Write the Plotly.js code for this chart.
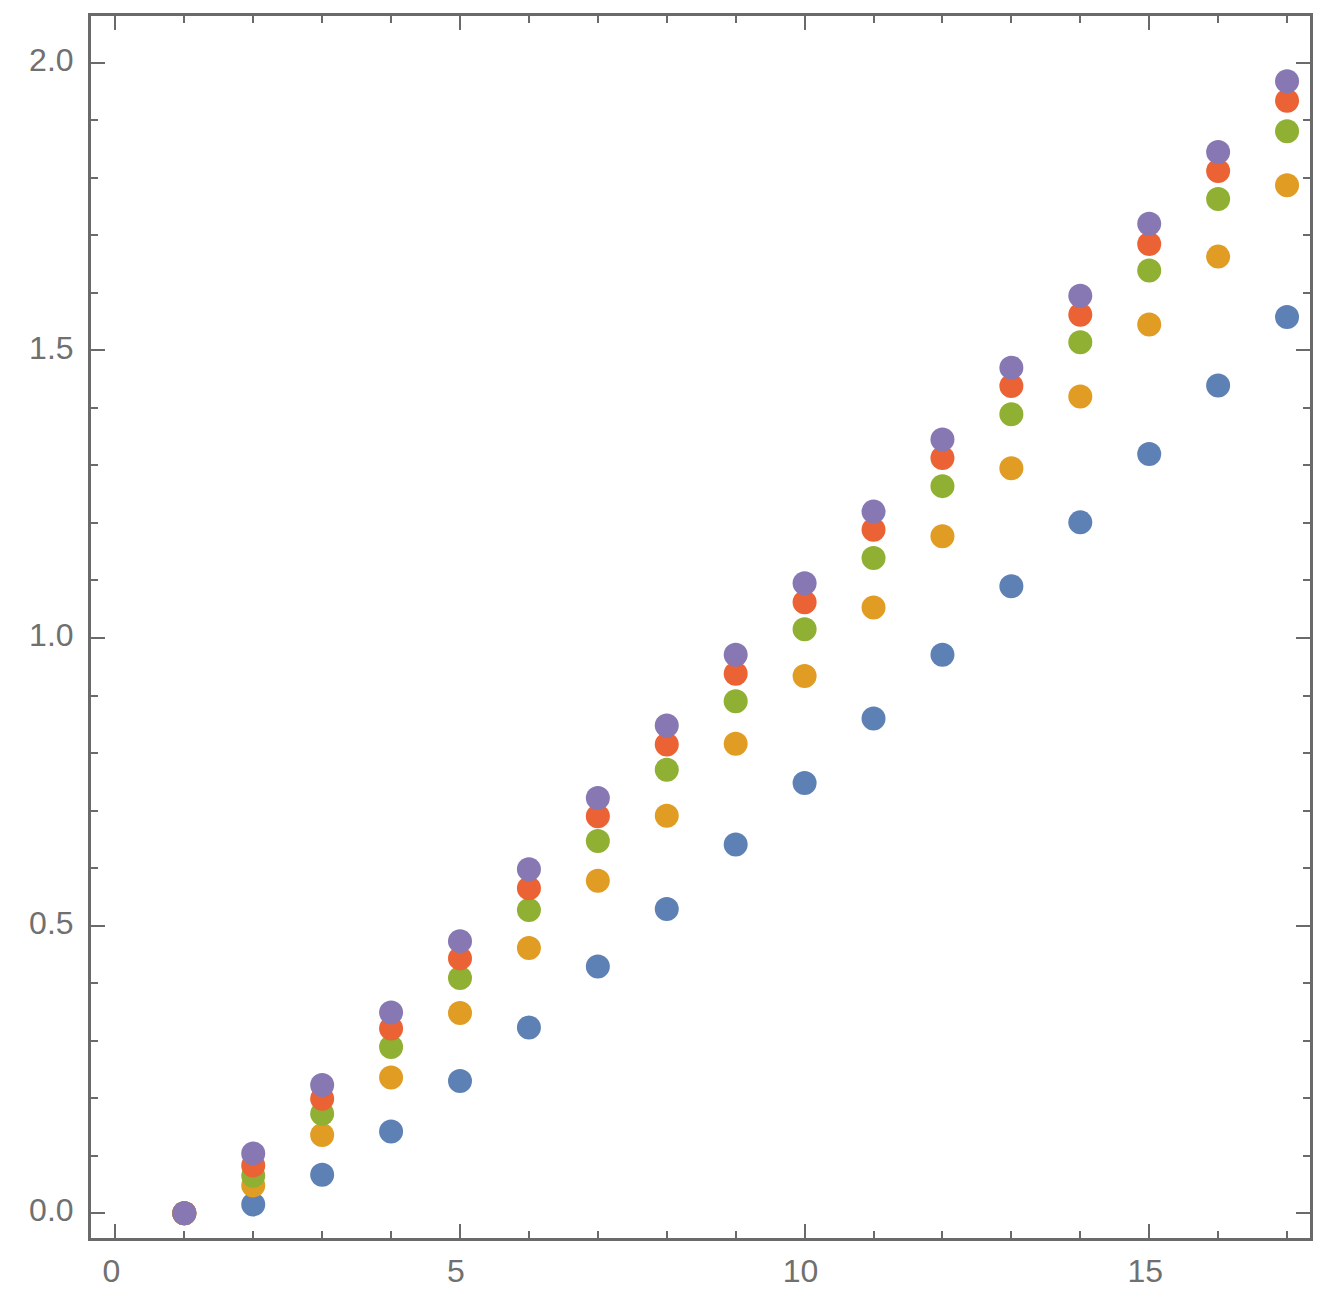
<!DOCTYPE html>
<html>
<head>
<meta charset="utf-8">
<script src="https://cdn.plot.ly/plotly-3.0.1.min.js"></script>
<style>html,body{margin:0;padding:0;background:#fff;}#plot{width:1326px;height:1300px;}</style>
</head>
<body>
<div id="plot"></div>
<script>
const xs = [1,2,3,4,5,6,7,8,9,10,11,12,13,14,15,16,17];
const blue   = [0, 0.015, 0.067, 0.142, 0.230, 0.323, 0.429, 0.529, 0.641, 0.748, 0.860, 0.971, 1.090, 1.201, 1.320, 1.439, 1.558];
const orange = [0, 0.048, 0.136, 0.236, 0.348, 0.461, 0.578, 0.691, 0.816, 0.934, 1.053, 1.177, 1.295, 1.420, 1.545, 1.663, 1.787];
const green  = [0, 0.065, 0.173, 0.289, 0.409, 0.527, 0.647, 0.771, 0.890, 1.015, 1.139, 1.264, 1.389, 1.514, 1.639, 1.763, 1.881];
const red    = [0, 0.083, 0.199, 0.321, 0.443, 0.565, 0.690, 0.815, 0.938, 1.062, 1.188, 1.313, 1.438, 1.562, 1.685, 1.812, 1.934];
const purple = [0, 0.104, 0.223, 0.349, 0.473, 0.598, 0.722, 0.848, 0.971, 1.095, 1.220, 1.345, 1.470, 1.595, 1.720, 1.845, 1.968];
const xTicks = [0, 5, 10, 15];
const yTicks = [0.0, 0.5, 1.0, 1.5, 2.0];

const series = [blue, orange, green, red, purple];
const colors = ['#5E81B5', '#E19C24', '#8FB032', '#EB6235', '#8778B3'];

const traces = series.map((ys, i) => ({
  x: xs, y: ys, type: 'scatter', mode: 'markers',
  marker: {size: 24, color: colors[i], line: {width: 0}},
  hoverinfo: 'skip', showlegend: false
}));

const frameColor = '#6a6a6a';
const tickFont = {family: 'Liberation Sans, Arial, sans-serif', size: 32, color: '#707070'};

const layout = {
  width: 1326, height: 1300,
  margin: {l: 91, r: 16, t: 16, b: 62},
  paper_bgcolor: '#ffffff', plot_bgcolor: '#ffffff',
  showlegend: false,
  xaxis: {
    range: [-0.354, 17.333], autorange: false,
    showgrid: false, zeroline: false,
    showline: true, linecolor: frameColor, linewidth: 3, mirror: 'allticks',
    tickmode: 'array', tickvals: xTicks, ticktext: xTicks.map(String),
    ticks: 'inside', ticklen: 14, tickwidth: 2, tickcolor: frameColor,
    minor: {dtick: 1, tick0: 0, ticks: 'inside', ticklen: 7, tickwidth: 2, tickcolor: frameColor, showgrid: false},
    tickfont: tickFont, ticklabelstandoff: 3, ticklabelshift: -4
  },
  yaxis: {
    range: [-0.0431, 2.0813], autorange: false,
    showgrid: false, zeroline: false,
    showline: true, linecolor: frameColor, linewidth: 3, mirror: 'allticks',
    tickmode: 'array', tickvals: yTicks, ticktext: yTicks.map(v => v.toFixed(1)),
    ticks: 'inside', ticklen: 14, tickwidth: 2, tickcolor: frameColor,
    minor: {dtick: 0.1, tick0: 0, ticks: 'inside', ticklen: 7, tickwidth: 2, tickcolor: frameColor, showgrid: false},
    tickfont: tickFont, ticklabelstandoff: 8, ticklabelshift: -3
  }
};

Plotly.newPlot('plot', traces, layout, {displayModeBar: false, staticPlot: true});
</script>
</body>
</html>
